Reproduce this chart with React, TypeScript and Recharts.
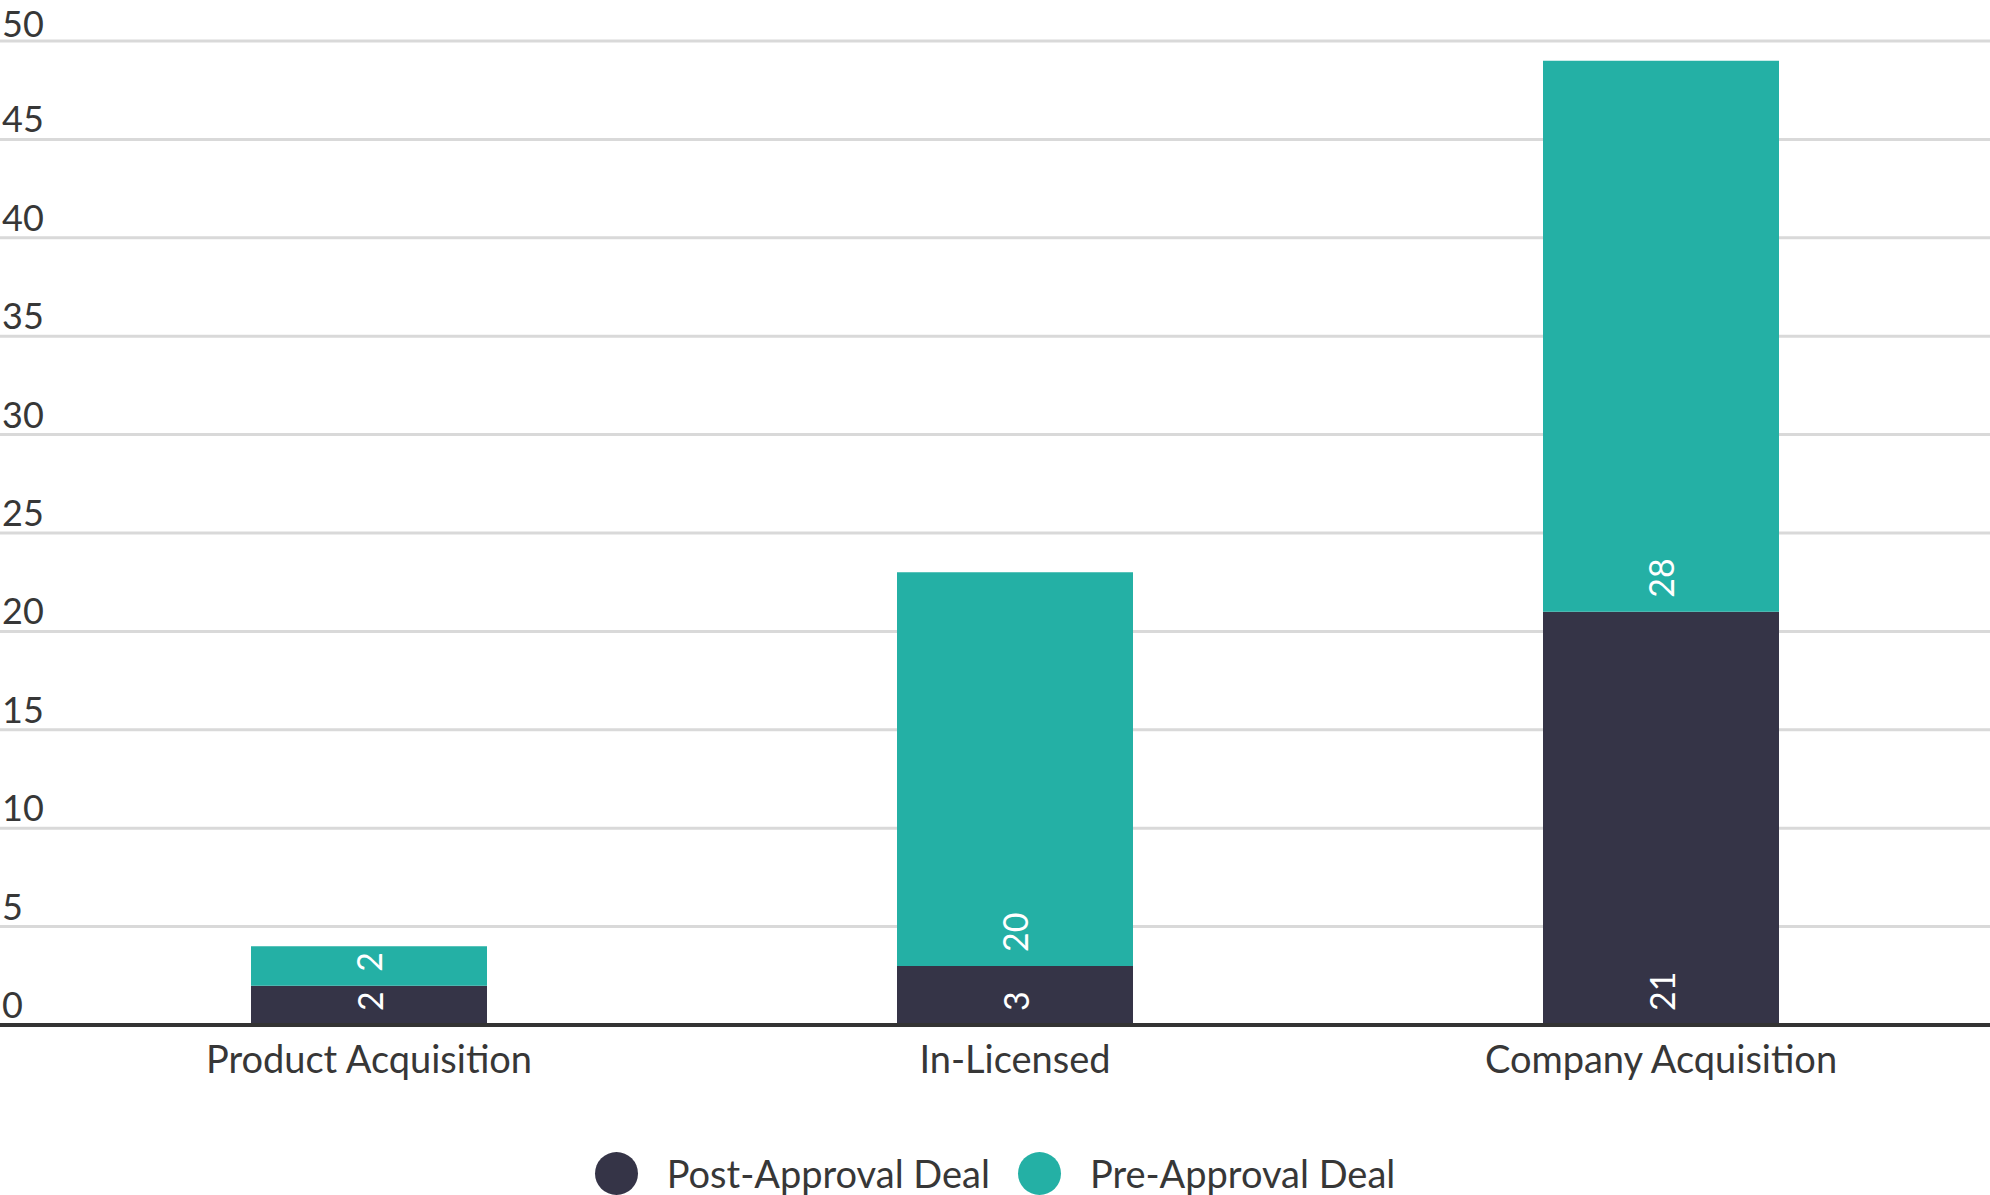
import React from "react";
import { Bar, BarChart, CartesianGrid, LabelList, Legend, XAxis, YAxis } from "recharts";

const categories = ["Product Acquisition", "In-Licensed", "Company Acquisition"];
const postApproval = [2, 3, 21];
const preApproval = [2, 20, 28];
const yTicks = [0, 5, 10, 15, 20, 25, 30, 35, 40, 45, 50];

const seriesNames = { post: "Post-Approval Deal", pre: "Pre-Approval Deal" };
const colors = { post: "#353447", pre: "#24B0A5" };
const textColor = "#373737";
const font = "Lato, 'Open Sans', sans-serif";

const data = categories.map((category, i) => ({
  category,
  post: postApproval[i],
  pre: preApproval[i],
}));

// label sits just above its gridline; keep the top one inside the picture
const YTick = (props: any) => (
  <text x={2} y={Math.max(props.y - 7, 37)} fill={textColor} fontSize={36} fontFamily={font} textAnchor="start">
    {props.payload.value}
  </text>
);

const XTick = (props: any) => (
  <text x={props.x} y={props.y + 48} fill={textColor} fontSize={38} fontFamily={font} textAnchor="middle">
    {props.payload.value}
  </text>
);

const SegmentLabel = (props: any) => {
  const { x, y, width, height, value } = props;
  const cx = x + width / 2;
  const by = y + height - 14;
  return (
    <text
      x={cx}
      y={by}
      transform={`rotate(-90, ${cx}, ${by})`}
      fill="#ffffff"
      fontSize={34}
      fontFamily={font}
      textAnchor="start"
      dominantBaseline="central"
    >
      {value}
    </text>
  );
};

const LegendContent = (props: any) => (
  <div style={{ display: "flex", justifyContent: "center", alignItems: "center", height: 50 }}>
    {props.payload.map((entry: any) => (
      <div key={entry.value} style={{ display: "flex", alignItems: "center", margin: "0 14px" }}>
        <span
          style={{
            width: 43,
            height: 43,
            borderRadius: "50%",
            background: entry.color,
            display: "inline-block",
            marginRight: 29,
          }}
        />
        <span style={{ fontSize: 38, fontFamily: font, color: textColor }}>{entry.value}</span>
      </div>
    ))}
  </div>
);

export default function App() {
  return (
    <div style={{ position: "absolute", left: 0, top: 0, background: "#fff" }}>
      <BarChart width={1990} height={1195} data={data} margin={{ top: 41, right: 0, left: 0, bottom: 50 }}>
        <CartesianGrid vertical={false} stroke="#d9d9d9" strokeWidth={3} />
        <XAxis
          dataKey="category"
          height={70}
          padding={{ left: 46, right: 6 }}
          tickLine={false}
          tickSize={0}
          tickMargin={0}
          axisLine={{ stroke: "#333333", strokeWidth: 4 }}
          tick={<XTick />}
          interval={0}
        />
        <YAxis
          mirror
          width={60}
          domain={[0, 50]}
          ticks={yTicks}
          interval={0}
          axisLine={false}
          tickLine={false}
          tick={<YTick />}
        />
        <Legend
          verticalAlign="bottom"
          content={<LegendContent />}
          wrapperStyle={{ top: 1148, left: 0, width: 1990, height: 50 }}
        />
        <Bar dataKey="post" name={seriesNames.post} stackId="a" fill={colors.post} barSize={236} isAnimationActive={false}>
          <LabelList dataKey="post" content={<SegmentLabel />} />
        </Bar>
        <Bar dataKey="pre" name={seriesNames.pre} stackId="a" fill={colors.pre} barSize={236} isAnimationActive={false}>
          <LabelList dataKey="pre" content={<SegmentLabel />} />
        </Bar>
      </BarChart>
    </div>
  );
}
